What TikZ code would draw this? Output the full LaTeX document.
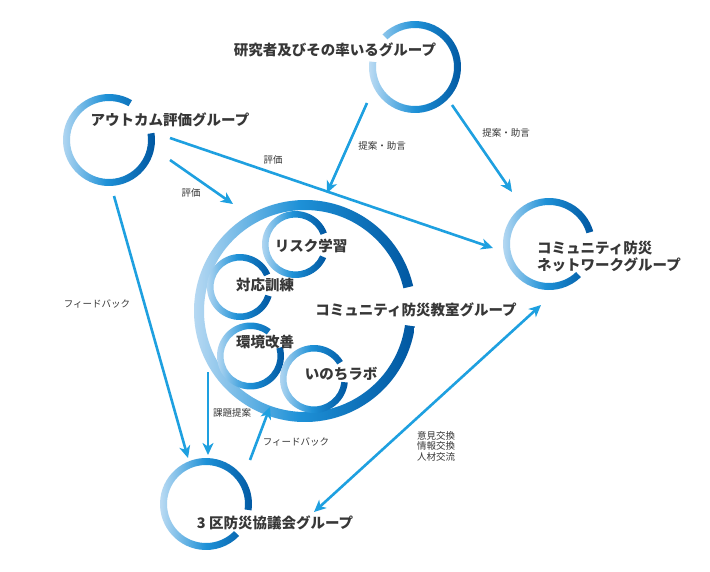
\documentclass[tikz,border=0pt]{standalone}
\usepackage{fontspec}
\newfontfamily\jp{Noto Sans CJK JP}
\usetikzlibrary{arrows.meta}
\definecolor{ringL}{RGB}{198,224,245}
\definecolor{ringM}{RGB}{30,145,215}
\definecolor{ringD}{RGB}{0,86,160}
\definecolor{arrowc}{RGB}{30,160,224}
\definecolor{txt}{RGB}{55,55,55}
% name, cx, cy, outer r, inner r, start angle, end angle (screen angles, counterclockwise)
\newcommand\myring[7]{%
  \shade[left color=ringL, right color=ringD, middle color=ringM]
    ([shift={(#2,#3)}]-#6:#4) arc[start angle=-#6, end angle=-#7, radius=#4]
    -- ([shift={(#2,#3)}]-#7:#5) arc[start angle=-#7, end angle=-#6, radius=#5] -- cycle;
  \coordinate (#1) at (#2,#3);
}
\begin{document}
\begin{tikzpicture}[x=1pt,y=-1pt,
  bigtxt/.style={font=\jp\bfseries\fontsize{14.5}{17}\selectfont, text=txt, inner sep=0pt},
  lbl/.style={font=\jp\fontsize{9.5}{10.5}\selectfont, text=txt, inner sep=0pt},
  arr/.style={draw=arrowc, line width=2.6pt, -{Stealth[length=12pt,width=11pt,inset=3.5pt]}},
  darr/.style={draw=arrowc, line width=2.6pt, {Stealth[length=12pt,width=11pt,inset=3.5pt]}-{Stealth[length=12pt,width=11pt,inset=3.5pt]}}]
\useasboundingbox[fill=white] (0,0) rectangle (710,571);
% rings
\myring{r1}{415}{67}{46}{39}{173}{495}
\myring{r2}{109}{140}{46}{39}{60}{369}
\myring{r3}{549}{244}{46}{39}{16}{314}
\myring{r4}{206}{504}{46}{39}{352}{676}
\myring{big}{305}{311}{111}{101}{13}{352}
\myring{s1r}{295.5}{244.5}{33.5}{27}{21}{336}
\myring{s2r}{240}{287}{33}{26.5}{24}{343}
\myring{s3r}{250.5}{356}{33.5}{27}{53}{376}
\myring{s4r}{314}{379}{34}{27.5}{32}{354}
% arrow end points
\coordinate (a1s) at (367,103); \coordinate (a1e) at (327,193);
\coordinate (a2s) at (452,105); \coordinate (a2e) at (512,192);
\coordinate (a3s) at (170,138); \coordinate (a3e) at (493,248);
\coordinate (a4s) at (170,160); \coordinate (a4e) at (233,204);
\coordinate (a5s) at (114,196); \coordinate (a5e) at (188,458);
\coordinate (a6s) at (208,372); \coordinate (a6e) at (208,455);
\coordinate (a7s) at (250,460); \coordinate (a7e) at (270,407);
\coordinate (a8s) at (314,512); \coordinate (a8e) at (541,305);
\draw[arr] (a1s) -- (a1e);
\draw[arr] (a2s) -- (a2e);
\draw[arr] (a3s) -- (a3e);
\draw[arr] (a4s) -- (a4e);
\draw[arr] (a5s) -- (a5e);
\draw[arr] (a6s) -- (a6e);
\draw[arr] (a7s) -- (a7e);
\draw[darr] (a8s) -- (a8e);
% main texts
\node[bigtxt] (t1) at (335,50) {研究者及びその率いるグループ};
\node[bigtxt] (t2) at (170,120) {アウトカム評価グループ};
\node[bigtxt, align=left, anchor=west] (t3) at (537,257) {コミュニティ防災\\ネットワークグループ};
\node[bigtxt] (t4) at (416,310) {コミュニティ防災教室グループ};
\node[bigtxt] (t5) at (275,523) {3 区防災協議会グループ};
\node[bigtxt] (s1) at (311,246) {リスク学習};
\node[bigtxt] (s2) at (265,285) {対応訓練};
\node[bigtxt] (s3) at (265,342) {環境改善};
\node[bigtxt] (s4) at (341,374) {いのちラボ};
% labels
\node[lbl] (l1) at (382,146) {提案・助言};
\node[lbl] (l2) at (506,133) {提案・助言};
\node[lbl] (l3) at (273,160) {評価};
\node[lbl] (l4) at (191,193) {評価};
\node[lbl] (l5) at (97,304) {フィードバック};
\node[lbl] (l6) at (232,413) {課題提案};
\node[lbl] (l7) at (296,442) {フィードバック};
\node[lbl, align=center] (l8) at (436,446) {意見交換\\情報交換\\人材交流};
\end{tikzpicture}
\end{document}
